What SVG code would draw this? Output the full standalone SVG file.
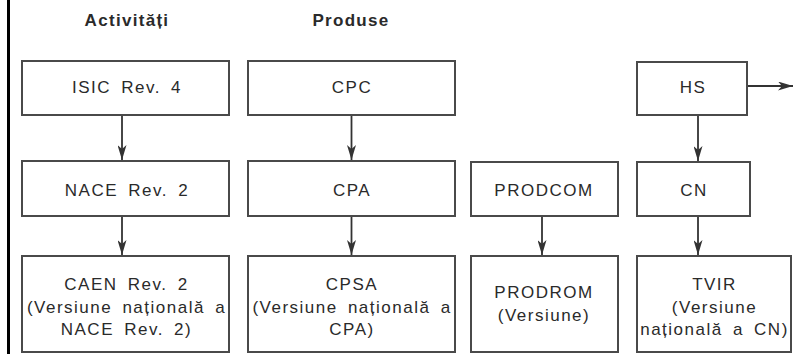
<svg xmlns="http://www.w3.org/2000/svg" width="793" height="354" viewBox="0 0 793 354">
  <style>
    .box { fill: #ffffff; stroke: #4a4a4a; stroke-width: 2; }
    .lbl { font-family: "Liberation Sans", Arial, Helvetica, sans-serif; font-size: 17px; fill: #2a2a2a; text-anchor: middle; letter-spacing: 1.5px; word-spacing: 4px; }
    .hdr { font-family: "Liberation Sans", Arial, Helvetica, sans-serif; font-size: 17px; font-weight: bold; fill: #2a2a2a; text-anchor: middle; letter-spacing: 1.3px; }
    .conn { stroke: #333333; stroke-width: 1.8; fill: none; marker-end: url(#arrow); }
  </style>
  <defs>
    <marker id="arrow" markerUnits="userSpaceOnUse" markerWidth="15" markerHeight="9" viewBox="0 0 15 9" refX="15" refY="4.5" orient="auto">
      <path d="M0,0 L15,4.5 L0,9 L4,4.5 Z" fill="#333333"/>
    </marker>
  </defs>
  <rect x="0" y="0" width="793" height="354" fill="#ffffff"/>
  <line x1="8.5" y1="0" x2="8.5" y2="354" stroke="#000000" stroke-width="3"/>

  <g id="headers">
    <text class="hdr" x="127" y="26">Activități</text>
    <text class="hdr" x="351" y="26">Produse</text>
  </g>

  <g id="isic">
    <rect class="box" x="22" y="61" width="207" height="54"/>
    <text class="lbl" x="127" y="93">ISIC Rev. 4</text>
  </g>
  <g id="cpc">
    <rect class="box" x="248" y="61" width="207" height="54"/>
    <text class="lbl" x="352" y="93">CPC</text>
  </g>
  <g id="hs">
    <rect class="box" x="637" y="62" width="110" height="53"/>
    <text class="lbl" x="693" y="93">HS</text>
  </g>

  <g id="nace">
    <rect class="box" x="22" y="161" width="207" height="55"/>
    <text class="lbl" x="127" y="196">NACE Rev. 2</text>
  </g>
  <g id="cpa">
    <rect class="box" x="248" y="161" width="207" height="55"/>
    <text class="lbl" x="352" y="196">CPA</text>
  </g>
  <g id="prodcom">
    <rect class="box" x="471" y="162" width="147" height="54"/>
    <text class="lbl" x="544" y="196">PRODCOM</text>
  </g>
  <g id="cn">
    <rect class="box" x="637" y="162" width="113" height="54"/>
    <text class="lbl" x="694" y="196">CN</text>
  </g>

  <g id="caen">
    <rect class="box" x="22" y="256" width="207" height="96"/>
    <text class="lbl" x="126.5" y="290">CAEN Rev. 2</text>
    <text class="lbl" x="126.5" y="312.5">(Versiune națională a</text>
    <text class="lbl" x="126.5" y="335">NACE Rev. 2)</text>
  </g>
  <g id="cpsa">
    <rect class="box" x="248" y="256" width="207" height="96"/>
    <text class="lbl" x="352" y="290">CPSA</text>
    <text class="lbl" x="352" y="312.5">(Versiune națională a</text>
    <text class="lbl" x="352" y="335">CPA)</text>
  </g>
  <g id="prodrom">
    <rect class="box" x="471" y="256" width="147" height="96"/>
    <text class="lbl" x="544" y="298">PRODROM</text>
    <text class="lbl" x="544" y="320.5">(Versiune)</text>
  </g>
  <g id="tvir">
    <rect class="box" x="637" y="256" width="154" height="96"/>
    <text class="lbl" x="714.5" y="290">TVIR</text>
    <text class="lbl" x="714.5" y="312.5">(Versiune</text>
    <text class="lbl" x="714.5" y="335">națională a CN)</text>
  </g>

  <g id="connectors">
    <line class="conn" x1="122" y1="116" x2="122" y2="160"/>
    <line class="conn" x1="351.5" y1="116" x2="351.5" y2="160"/>
    <line class="conn" x1="698" y1="116" x2="698" y2="161"/>
    <line class="conn" x1="122" y1="217" x2="122" y2="255"/>
    <line class="conn" x1="351.5" y1="217" x2="351.5" y2="255"/>
    <line class="conn" x1="542" y1="217" x2="542" y2="255"/>
    <line class="conn" x1="698" y1="217" x2="698" y2="255"/>
    <line class="conn" x1="748" y1="86" x2="793" y2="86"/>
  </g>
</svg>
